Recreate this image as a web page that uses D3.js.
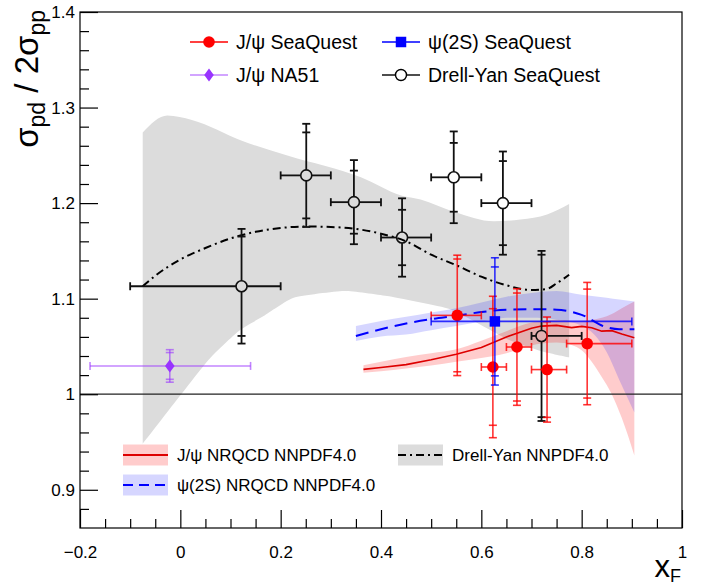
<!DOCTYPE html>
<html>
<head>
<meta charset="utf-8">
<script src="https://cdn.jsdelivr.net/npm/d3@7"></script>
<style>
  body { margin: 0; background: #fff; }
  svg { font-family: "Liberation Sans", Arial, sans-serif; }
</style>
</head>
<body>
<svg class="chart" width="708" height="586"></svg>
<script>
// ---- data ----
const dyX = [0.122, 0.251, 0.346, 0.442, 0.545, 0.643, 0.720];
const dyY = [1.113, 1.229, 1.201, 1.164, 1.227, 1.200, 1.061];
const dyXlo = [-0.1, 0.2, 0.3, 0.4, 0.5, 0.6, 0.7];
const dyXhi = [0.2, 0.3, 0.4, 0.5, 0.6, 0.7, 0.8];
const dyStat = [0.052, 0.045, 0.033, 0.029, 0.036, 0.044, 0.085];
const dyTot = [0.060, 0.054, 0.044, 0.041, 0.048, 0.054, 0.089];

const jpsiX = [0.552, 0.623, 0.671, 0.731, 0.811];
const jpsiY = [1.0825, 1.0285, 1.0494, 1.0258, 1.053];
const jpsiXlo = [0.5, 0.6, 0.65, 0.7, 0.77];
const jpsiXhi = [0.6, 0.65, 0.7, 0.77, 0.9];
const jpsiStat = [0.059, 0.061, 0.0565, 0.050, 0.057];
const jpsiTot = [0.063, 0.074, 0.061, 0.055, 0.064];

const psi2sX = [0.627];
const psi2sY = [1.0762];
const psi2sXlo = [0.5];
const psi2sXhi = [0.9];
const psi2sStat = [0.057];
const psi2sTot = [0.0666];

const na51X = [-0.021];
const na51Y = [1.0296];
const na51Xlo = [-0.18];
const na51Xhi = [0.14];
const na51Stat = [0.014];
const na51Tot = [0.017];

// Drell-Yan NNPDF4.0 curve and band
const dyCurveX = [-0.075, -0.05, 0.0, 0.05, 0.1, 0.15, 0.2, 0.25, 0.3, 0.35, 0.4, 0.45, 0.5, 0.55, 0.6, 0.65, 0.7, 0.73, 0.75, 0.775];
const dyCurveY = [1.113, 1.124, 1.141, 1.153, 1.163, 1.170, 1.174, 1.1755, 1.175, 1.173, 1.168, 1.160, 1.146, 1.135, 1.123, 1.114, 1.109, 1.110, 1.116, 1.125];
const dyBandUpX = [-0.075, -0.026, 0.023, 0.124, 0.215, 0.36, 0.44, 0.479, 0.545, 0.625, 0.678, 0.731, 0.775];
const dyBandUpY = [1.274, 1.2916, 1.287, 1.265, 1.2496, 1.227, 1.208, 1.2037, 1.191, 1.181, 1.1828, 1.188, 1.199];
const dyBandLoX = [-0.075, 0.053, 0.116, 0.166, 0.226, 0.326, 0.412, 0.538, 0.65, 0.72, 0.775];
const dyBandLoY = [0.948, 1.034, 1.066, 1.0818, 1.101, 1.108, 1.1027, 1.0888, 1.058, 1.045, 1.0386];

// J/psi NRQCD NNPDF4.0
const jpsiThX = [0.365, 0.40, 0.45, 0.50, 0.55, 0.60, 0.65, 0.70, 0.72, 0.75, 0.78, 0.80, 0.82, 0.84, 0.86, 0.88, 0.905];
const jpsiThY = [1.026, 1.028, 1.031, 1.036, 1.0418, 1.049, 1.060, 1.069, 1.0713, 1.072, 1.0697, 1.071, 1.0695, 1.066, 1.0665, 1.063, 1.059];
const jpsiThUp = [1.0303, 1.034, 1.039, 1.043, 1.047, 1.056, 1.066, 1.075, 1.077, 1.078, 1.077, 1.077, 1.078, 1.080, 1.084, 1.090, 1.097];
const jpsiThLo = [1.0226, 1.024, 1.027, 1.030, 1.034, 1.038, 1.043, 1.051, 1.053, 1.054, 1.0515, 1.046, 1.034, 1.018, 1.000, 0.975, 0.936];

// psi(2S) NRQCD NNPDF4.0
const psiThX = [0.35, 0.40, 0.45, 0.50, 0.55, 0.60, 0.65, 0.70, 0.75, 0.80, 0.85, 0.875, 0.905];
const psiThY = [1.0609, 1.068, 1.074, 1.0785, 1.082, 1.086, 1.0885, 1.089, 1.0885, 1.083, 1.070, 1.068, 1.068];
const psiThUp = [1.0713, 1.0765, 1.081, 1.0855, 1.090, 1.096, 1.102, 1.106, 1.108, 1.104, 1.101, 1.099, 1.097];
const psiThLo = [1.0557, 1.0605, 1.0625, 1.067, 1.0713, 1.076, 1.080, 1.080, 1.078, 1.072, 1.044, 1.015, 0.981];

const xTicks = [-0.2, 0, 0.2, 0.4, 0.6, 0.8, 1];
const yTicks = [0.9, 1, 1.1, 1.2, 1.3, 1.4];

// ---- layout ----
const chart = d3.select('.chart');
const margin = { left: 80, top: 12, right: 26, bottom: 58 };
const width = +chart.attr('width') - margin.left - margin.right;
const height = +chart.attr('height') - margin.top - margin.bottom;

const x = d3.scaleLinear().domain([-0.2, 1]).range([0, width]);
const y = d3.scaleLinear().domain([0.86, 1.4]).range([height, 0]);

const g = chart.append('g').attr('transform', `translate(${margin.left},${margin.top})`);

const zip = (xs, ys) => xs.map((d, i) => [d, ys[i]]);
const lineGen = d3.line().x(d => x(d[0])).y(d => y(d[1])).curve(d3.curveMonotoneX);

// gray DY band: upper edge forward, lower edge back
const upPts = zip(dyBandUpX, dyBandUpY).map(d => [x(d[0]), y(d[1])]);
const loPts = zip(dyBandLoX, dyBandLoY).map(d => [x(d[0]), y(d[1])]).reverse();
const upPath = d3.line().curve(d3.curveMonotoneX)(upPts);
const loPath = d3.line().curve(d3.curveCardinal.tension(0.5))(loPts);
g.append('path')
  .attr('d', upPath + 'L' + loPath.slice(1) + 'Z')
  .attr('fill', '#dcdcdc');

const bandArea = (xs, lo, hi) => d3.area()
  .x(d => x(d[0])).y0(d => y(d[1])).y1(d => y(d[2]))
  .curve(d3.curveMonotoneX)(xs.map((v, i) => [v, lo[i], hi[i]]));

g.append('path')
  .attr('d', bandArea(jpsiThX, jpsiThLo, jpsiThUp))
  .attr('fill', 'rgba(255,0,0,0.2)');
g.append('path')
  .attr('d', bandArea(psiThX, psiThLo, psiThUp))
  .attr('fill', 'rgba(0,0,255,0.16)');

// theory lines
g.append('path').attr('d', lineGen(zip(dyCurveX, dyCurveY)))
  .attr('fill', 'none').attr('stroke', '#000').attr('stroke-width', 2)
  .attr('stroke-dasharray', '8,4,2,4');
g.append('path').attr('d', d3.line().x(d => x(d[0])).y(d => y(d[1]))(zip(jpsiThX, jpsiThY)))
  .attr('fill', 'none').attr('stroke', '#dd0000').attr('stroke-width', 1.6);
g.append('path').attr('d', lineGen(zip(psiThX, psiThY)))
  .attr('fill', 'none').attr('stroke', '#0000ff').attr('stroke-width', 2)
  .attr('stroke-dasharray', '13,7');

// line at unity
g.append('line')
  .attr('x1', 0).attr('x2', width)
  .attr('y1', y(1)).attr('y2', y(1))
  .attr('stroke', '#222').attr('stroke-width', 1.2);

// ---- data points with stat/total error bars ----
const diamond = 'M0,-6.5L4.8,0L0,6.5L-4.8,0Z';

function drawSeries(xs, ys, xlo, xhi, stat, tot, color, marker, opts) {
  const s = g.append('g');
  const r = opts.gap;
  xs.forEach((xv, i) => {
    const cx = x(xv), cy = y(ys[i]);
    const e = s.append('g').attr('stroke', opts.barColor || color).attr('stroke-width', opts.sw).attr('fill', 'none');
    // vertical
    e.append('line').attr('x1', cx).attr('x2', cx).attr('y1', y(ys[i] + tot[i])).attr('y2', cy - r);
    e.append('line').attr('x1', cx).attr('x2', cx).attr('y1', cy + r).attr('y2', y(ys[i] - tot[i]));
    // horizontal
    e.append('line').attr('x1', x(xlo[i])).attr('x2', cx - r).attr('y1', cy).attr('y2', cy);
    e.append('line').attr('x1', cx + r).attr('x2', x(xhi[i])).attr('y1', cy).attr('y2', cy);
    // caps
    [ys[i] + tot[i], ys[i] - tot[i], ys[i] + stat[i], ys[i] - stat[i]].forEach(v => {
      e.append('line').attr('x1', cx - 4).attr('x2', cx + 4).attr('y1', y(v)).attr('y2', y(v));
    });
    [xlo[i], xhi[i]].forEach(v => {
      e.append('line').attr('x1', x(v)).attr('x2', x(v)).attr('y1', cy - 4).attr('y2', cy + 4);
    });
    // marker
    if (marker === 'circle') {
      s.append('circle').attr('cx', cx).attr('cy', cy).attr('r', 5.8).attr('fill', color);
    } else if (marker === 'open') {
      s.append('circle').attr('cx', cx).attr('cy', cy).attr('r', 5.5)
        .attr('fill', 'none').attr('stroke', color).attr('stroke-width', 1.6);
    } else if (marker === 'square') {
      s.append('path').attr('d', d3.symbol(d3.symbolSquare, 110)()).attr('transform', `translate(${cx},${cy})`).attr('fill', color);
    } else {
      s.append('path').attr('d', diamond).attr('transform', `translate(${cx},${cy})`).attr('fill', color);
    }
  });
}

drawSeries(dyX, dyY, dyXlo, dyXhi, dyStat, dyTot, '#111', 'open', { sw: 1.8, gap: 5.5 });
drawSeries(jpsiX, jpsiY, jpsiXlo, jpsiXhi, jpsiStat, jpsiTot, '#ff0000', 'circle', { sw: 1.6, gap: 0, barColor: 'rgba(255,0,0,0.8)' });
drawSeries(psi2sX, psi2sY, psi2sXlo, psi2sXhi, psi2sStat, psi2sTot, '#0000ff', 'square', { sw: 1.6, gap: 0, barColor: 'rgba(0,0,255,0.8)' });
drawSeries(na51X, na51Y, na51Xlo, na51Xhi, na51Stat, na51Tot, '#9933ff', 'diamond', { sw: 1.6, gap: 0, barColor: 'rgba(153,51,255,0.6)' });

// ---- axes ----
const fmt = d3.format('~g');
const xAxisG = g.append('g').attr('transform', `translate(0,${height})`)
  .call(d3.axisBottom(x).tickValues(xTicks).tickSize(-18).tickPadding(18).tickFormat(fmt));
g.append('g').attr('transform', `translate(0,${height})`)
  .call(d3.axisBottom(x).tickValues(d3.range(-0.15, 1, 0.05).filter((d, i) => (i + 1) % 4 !== 0)).tickSize(-9).tickFormat(''))
  .call(a => a.select('.domain').remove());
const yAxisG = g.append('g')
  .call(d3.axisLeft(y).tickValues(yTicks).tickSize(-18).tickPadding(5).tickFormat(fmt));
g.append('g')
  .call(d3.axisLeft(y).tickValues(d3.range(0.88, 1.4, 0.02).filter(d => Math.abs(d * 10 - Math.round(d * 10)) > 1e-6)).tickSize(-9).tickFormat(''))
  .call(a => a.select('.domain').remove());

[xAxisG, yAxisG].forEach(a => {
  a.select('.domain').remove();
  a.selectAll('text').attr('font-size', 17).attr('fill', '#000')
    .attr('font-family', '"Liberation Sans", Arial, sans-serif');
});
chart.selectAll('.tick line').attr('stroke', '#000').attr('stroke-width', 1.2);

// frame
g.append('rect').attr('width', width).attr('height', height)
  .attr('fill', 'none').attr('stroke', '#000').attr('stroke-width', 1.2);

// axis titles
const yt = chart.append('text')
  .attr('transform', 'translate(38,10) rotate(-90)')
  .attr('text-anchor', 'end')
  .attr('font-size', 33);
yt.append('tspan').text('σ');
yt.append('tspan').attr('font-size', 23).attr('dy', 7).text('pd');
yt.append('tspan').attr('dy', -7).text(' / 2σ');
yt.append('tspan').attr('font-size', 23).attr('dy', 7).text('pp');

const xt = chart.append('text')
  .attr('x', 681).attr('y', 577)
  .attr('text-anchor', 'end')
  .attr('font-size', 31);
xt.append('tspan').text('x');
xt.append('tspan').attr('font-size', 18).attr('dy', 5).text('F');

// ---- top legend ----
const legTop = [
  { label: 'J/ψ SeaQuest', color: '#ff0000', marker: 'circle', x: 190, y: 42 },
  { label: 'ψ(2S) SeaQuest', color: '#0000ff', marker: 'square', x: 382, y: 42 },
  { label: 'J/ψ NA51', color: '#9933ff', marker: 'diamond', x: 190, y: 75 },
  { label: 'Drell-Yan SeaQuest', color: '#000', marker: 'open', x: 382, y: 75 }
];
legTop.forEach(d => {
  const lg = chart.append('g').attr('transform', `translate(${d.x},${d.y})`);
  const lc = d.marker === 'diamond' ? 'rgba(153,51,255,0.6)' : d.color;
  if (d.marker === 'open') {
    lg.append('line').attr('x1', 0).attr('x2', 13).attr('stroke', lc).attr('stroke-width', 1.4);
    lg.append('line').attr('x1', 25).attr('x2', 38).attr('stroke', lc).attr('stroke-width', 1.4);
    lg.append('circle').attr('cx', 19).attr('r', 5.5).attr('fill', 'none').attr('stroke', '#000').attr('stroke-width', 1.4);
  } else {
    lg.append('line').attr('x1', 0).attr('x2', 38).attr('stroke', lc).attr('stroke-width', 1.4);
    if (d.marker === 'circle') lg.append('circle').attr('cx', 19).attr('r', 5.8).attr('fill', d.color);
    if (d.marker === 'square') lg.append('path').attr('d', d3.symbol(d3.symbolSquare, 110)()).attr('transform', 'translate(19,0)').attr('fill', d.color);
    if (d.marker === 'diamond') lg.append('path').attr('d', diamond).attr('transform', 'translate(19,0)').attr('fill', d.color);
  }
  lg.append('text').attr('x', 46).attr('dy', '0.36em').attr('font-size', 19.5).attr('fill', '#000').text(d.label);
});

// ---- bottom legend ----
const legBot = [
  { label: 'J/ψ NRQCD NNPDF4.0', fill: 'rgba(255,0,0,0.2)', stroke: '#dd0000', dash: null, x: 123, y: 455 },
  { label: 'Drell-Yan NNPDF4.0', fill: '#dcdcdc', stroke: '#000', dash: '8,4,2,4', x: 398, y: 455 },
  { label: 'ψ(2S) NRQCD NNPDF4.0', fill: 'rgba(0,0,255,0.16)', stroke: '#0000ff', dash: '10,6', x: 123, y: 485 }
];
legBot.forEach(d => {
  const lg = chart.append('g').attr('transform', `translate(${d.x},${d.y})`);
  lg.append('rect').attr('x', 0).attr('y', -10.5).attr('width', 45).attr('height', 21).attr('fill', d.fill);
  lg.append('line').attr('x1', 0).attr('x2', 45).attr('stroke', d.stroke).attr('stroke-width', 1.8)
    .attr('stroke-dasharray', d.dash);
  lg.append('text').attr('x', 54).attr('dy', '0.36em').attr('font-size', 17).attr('fill', '#000').text(d.label);
});
</script>
</body>
</html>
